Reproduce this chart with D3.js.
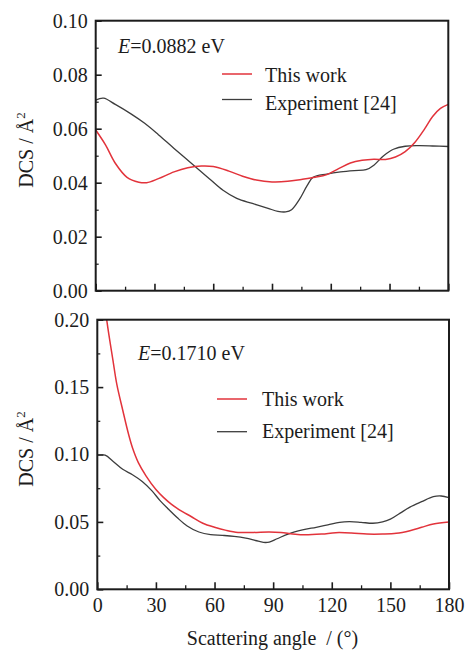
<!DOCTYPE html>
<html>
<head>
<meta charset="utf-8">
<script src="https://cdn.jsdelivr.net/npm/d3@7"></script>
<style>
  html, body { margin: 0; padding: 0; background: #fff; }
  svg { display: block; }
  text { font-family: "Liberation Serif", "Times New Roman", serif; fill: #1c1c1c; }
</style>
</head>
<body>
<svg id="chart" width="465" height="652"></svg>
<script>
// Scattering angle (degrees) vs differential cross section (Å^2)
const xTicks = [0, 30, 60, 90, 120, 150, 180];
const xMinorTicks = [15, 45, 75, 105, 135, 165];
const seriesNames = ["This work", "Experiment [24]"];

// Panel 1: E = 0.0882 eV
const energyTop = "0.0882 eV";
const yTicksTop = [0, 0.02, 0.04, 0.06, 0.08, 0.10];
const yMinorTop = [0.01, 0.03, 0.05, 0.07, 0.09];
const thisWorkTop = [
  [0, 0.0595], [5, 0.0540], [10, 0.0472], [16, 0.0420], [22, 0.0402], [26, 0.0400],
  [32, 0.0415], [40, 0.0440], [47, 0.0455], [54, 0.0462], [60, 0.0460], [68, 0.0443],
  [75, 0.0424], [82, 0.0410], [90, 0.0403], [98, 0.0405], [105, 0.0412], [112, 0.0420],
  [118, 0.0430], [124, 0.0452], [130, 0.0473], [136, 0.0483], [142, 0.0487], [148, 0.0486],
  [153, 0.0495], [158, 0.0515], [163, 0.0550], [168, 0.0600], [172, 0.0645], [176, 0.0675],
  [180, 0.0690]
];
const experimentTop = [
  [0, 0.0706], [4, 0.0713], [10, 0.0690], [18, 0.0655], [25, 0.0620], [32, 0.0578],
  [40, 0.0527], [50, 0.0465], [58, 0.0415], [65, 0.0372], [72, 0.0342], [80, 0.0323],
  [88, 0.0305], [93, 0.0294], [97, 0.0292], [100, 0.0300], [104, 0.0338], [108, 0.0390],
  [111, 0.0420], [118, 0.0432], [125, 0.0440], [132, 0.0445], [138, 0.0448], [142, 0.0465],
  [147, 0.0500], [152, 0.0524], [158, 0.0535], [165, 0.0537], [172, 0.0536], [180, 0.0534]
];

// Panel 2: E = 0.1710 eV
const energyBottom = "0.1710 eV";
const yTicksBottom = [0, 0.05, 0.10, 0.15, 0.20];
const yMinorBottom = [0.025, 0.075, 0.125, 0.175];
const thisWorkBottom = [
  [0, 0.255], [3, 0.222], [5, 0.198], [8, 0.170], [10, 0.152], [13, 0.133], [16, 0.115],
  [18, 0.105], [21, 0.094], [25, 0.084], [30, 0.074], [34, 0.068], [38, 0.063], [42, 0.059],
  [48, 0.054], [54, 0.049], [60, 0.046], [66, 0.0437], [72, 0.0422], [80, 0.0422],
  [88, 0.0425], [94, 0.0421], [100, 0.0411], [106, 0.0404], [115, 0.0410], [122, 0.0420],
  [130, 0.0418], [138, 0.0410], [146, 0.0410], [153, 0.0415], [160, 0.0435], [166, 0.0460],
  [172, 0.0485], [180, 0.0500]
];
const experimentBottom = [
  [0, 0.0995], [4, 0.0995], [8, 0.0950], [13, 0.0890], [18, 0.0850], [23, 0.0800],
  [28, 0.0730], [32, 0.0660], [36, 0.0600], [41, 0.0530], [46, 0.0470], [52, 0.0425],
  [58, 0.0405], [64, 0.0400], [70, 0.0393], [76, 0.0380], [81, 0.0362], [85, 0.0348],
  [88, 0.0350], [92, 0.0375], [98, 0.0412], [105, 0.0440], [112, 0.0460], [118, 0.0478],
  [124, 0.0497], [129, 0.0502], [135, 0.0497], [141, 0.0490], [146, 0.0500], [150, 0.0520],
  [155, 0.0565], [160, 0.0610], [166, 0.0650], [172, 0.0687], [176, 0.0692], [180, 0.0680]
];

const colors = { thisWork: "#e2333b", experiment: "#3d3d3d" };
const svg = d3.select("#chart");

function drawPanel(cfg) {
  const x = d3.scaleLinear().domain([0, 180]).range([cfg.left, cfg.right]);
  const y = d3.scaleLinear().domain(cfg.yDomain).range([cfg.bottom, cfg.top]);
  const g = svg.append("g");

  const clipId = "clip-" + cfg.id;
  svg.append("defs").append("clipPath").attr("id", clipId)
    .append("rect")
    .attr("x", cfg.left).attr("y", cfg.top)
    .attr("width", cfg.right - cfg.left).attr("height", cfg.bottom - cfg.top);

  // bottom axis: inward major + minor ticks
  const xAxis = d3.axisBottom(x).tickValues(xTicks).tickSize(-7).tickPadding(9)
    .tickFormat(cfg.showXLabels ? d3.format("d") : () => "");
  const gx = g.append("g").attr("transform", `translate(0,${cfg.bottom})`).call(xAxis);
  gx.select(".domain").remove();
  gx.selectAll("line").attr("stroke", "#1c1c1c").attr("stroke-width", 1.6);
  gx.selectAll("text").attr("font-size", 20).attr("fill", "#1c1c1c")
    .attr("font-family", "Liberation Serif, serif");

  const gxm = g.append("g").attr("transform", `translate(0,${cfg.bottom})`)
    .call(d3.axisBottom(x).tickValues(xMinorTicks).tickSize(-4).tickFormat(() => ""));
  gxm.select(".domain").remove();
  gxm.selectAll("line").attr("stroke", "#1c1c1c").attr("stroke-width", 1.3);

  // left axis
  const yAxis = d3.axisLeft(y).tickValues(cfg.yTicks).tickSize(-6).tickPadding(8)
    .tickFormat(d3.format(".2f"));
  const gy = g.append("g").attr("transform", `translate(${cfg.left},0)`).call(yAxis);
  gy.select(".domain").remove();
  gy.selectAll("line").attr("stroke", "#1c1c1c").attr("stroke-width", 1.6);
  gy.selectAll("text").attr("font-size", 20).attr("fill", "#1c1c1c")
    .attr("font-family", "Liberation Serif, serif");

  const gym = g.append("g").attr("transform", `translate(${cfg.left},0)`)
    .call(d3.axisLeft(y).tickValues(cfg.yMinor).tickSize(-3).tickFormat(() => ""));
  gym.select(".domain").remove();
  gym.selectAll("line").attr("stroke", "#1c1c1c").attr("stroke-width", 1.2);

  // curves
  const line = d3.line()
    .x(d => x(d[0])).y(d => y(d[1]))
    .curve(d3.curveCatmullRom.alpha(0.5));
  const curves = g.append("g").attr("clip-path", `url(#${clipId})`);
  curves.append("path").datum(cfg.experiment)
    .attr("d", line).attr("fill", "none")
    .attr("stroke", colors.experiment).attr("stroke-width", 1.3);
  curves.append("path").datum(cfg.thisWork)
    .attr("d", line).attr("fill", "none")
    .attr("stroke", colors.thisWork).attr("stroke-width", 1.5);

  // frame
  g.append("rect")
    .attr("x", cfg.left).attr("y", cfg.top)
    .attr("width", cfg.right - cfg.left).attr("height", cfg.bottom - cfg.top)
    .attr("fill", "none").attr("stroke", "#1c1c1c").attr("stroke-width", 2);

  // energy label
  const e = g.append("text").attr("x", cfg.eLabel[0]).attr("y", cfg.eLabel[1])
    .attr("font-size", 20);
  e.append("tspan").attr("font-style", "italic").text("E");
  e.append("tspan").text("=" + cfg.energy);

  // legend
  const legendColors = [colors.thisWork, colors.experiment];
  cfg.legend.forEach((row, i) => {
    g.append("line")
      .attr("x1", cfg.legendX[0]).attr("x2", cfg.legendX[1])
      .attr("y1", row.lineY).attr("y2", row.lineY)
      .attr("stroke", legendColors[i]).attr("stroke-width", i === 0 ? 1.5 : 1.3);
    g.append("text").attr("x", cfg.legendX[2]).attr("y", row.textY)
      .attr("font-size", 20).text(seriesNames[i]);
  });

  // y-axis title
  const t = g.append("text")
    .attr("transform", `translate(33,${cfg.titleY}) rotate(-90)`)
    .attr("text-anchor", "middle").attr("font-size", 20);
  t.append("tspan").text("DCS / Å");
  t.append("tspan").attr("font-size", 13).attr("dy", -8).text("2");
}

drawPanel({
  id: "top", left: 95.7, right: 448.3, top: 20.7, bottom: 290.7,
  yDomain: [0, 0.10], yTicks: yTicksTop, yMinor: yMinorTop,
  thisWork: thisWorkTop, experiment: experimentTop,
  showXLabels: false, energy: energyTop, eLabel: [118, 52.5],
  legendX: [222, 252, 265],
  legend: [{ lineY: 74, textY: 81.5 }, { lineY: 99.5, textY: 109.5 }],
  titleY: 150
});

drawPanel({
  id: "bottom", left: 97.3, right: 449, top: 319.7, bottom: 589.3,
  yDomain: [0, 0.20], yTicks: yTicksBottom, yMinor: yMinorBottom,
  thisWork: thisWorkBottom, experiment: experimentBottom,
  showXLabels: true, energy: energyBottom, eLabel: [138, 360],
  legendX: [217, 247, 262],
  legend: [{ lineY: 399, textY: 406 }, { lineY: 431.7, textY: 437.7 }],
  titleY: 449
});

// x-axis title
svg.append("text")
  .attr("x", 272.5).attr("y", 645)
  .attr("text-anchor", "middle").attr("font-size", 20)
  .style("white-space", "pre")
  .text("Scattering angle  / (°)");
</script>
</body>
</html>
